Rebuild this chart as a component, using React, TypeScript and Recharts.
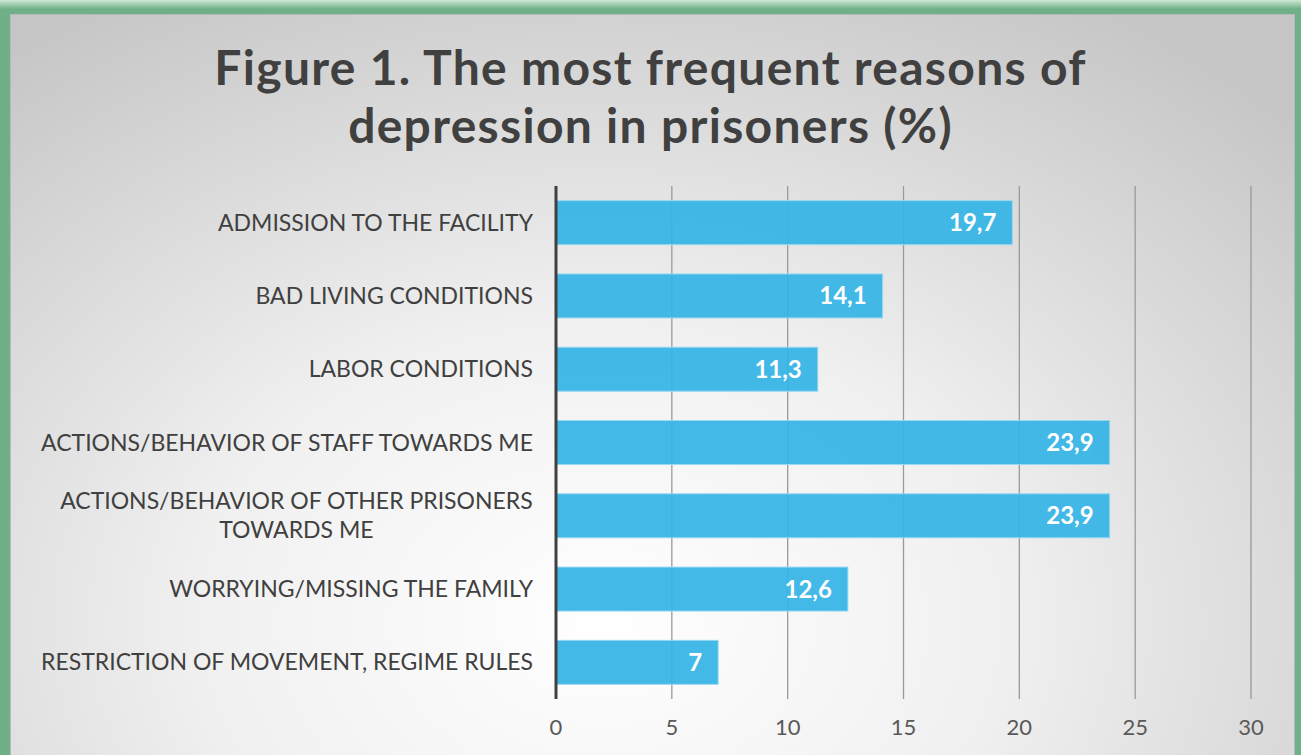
import React from "react"
import { Bar, BarChart, CartesianGrid, LabelList, XAxis, YAxis } from "recharts"

const categories = [
  "ADMISSION TO THE FACILITY",
  "BAD LIVING CONDITIONS",
  "LABOR CONDITIONS",
  "ACTIONS/BEHAVIOR OF STAFF TOWARDS ME",
  "ACTIONS/BEHAVIOR OF OTHER PRISONERS TOWARDS ME",
  "WORRYING/MISSING THE FAMILY",
  "RESTRICTION OF MOVEMENT, REGIME RULES",
]
const values = [19.7, 14.1, 11.3, 23.9, 23.9, 12.6, 7]
const xTicks = [0, 5, 10, 15, 20, 25, 30]
const titleLines = ["Figure 1. The most frequent reasons of", "depression in prisoners (%)"]

const data = categories.map((name, i) => ({ name, value: values[i] }))

const FONT = "Lato, 'Open Sans', sans-serif"
const LABEL_FONT_SIZE = 23

let ctx: CanvasRenderingContext2D | null = null
function measure(text: string) {
  if (!ctx) ctx = document.createElement("canvas").getContext("2d")
  if (!ctx) return text.length * 13
  ctx.font = `${LABEL_FONT_SIZE}px ${FONT}`
  return ctx.measureText(text).width
}

function wrap(text: string, maxChars = 37) {
  const lines: string[] = []
  let cur = ""
  text.split(" ").forEach((w) => {
    const next = cur ? cur + " " + w : w
    if (next.length > maxChars && cur) {
      lines.push(cur)
      cur = w
    } else cur = next
  })
  if (cur) lines.push(cur)
  return lines
}

function CategoryTick(props: any) {
  const { x, y, payload } = props
  const lines = wrap(payload.value)
  const right = x - 15
  if (lines.length === 1) {
    return (
      <text x={right} y={y} dy="0.35em" textAnchor="end" fill="#404040" fontSize={LABEL_FONT_SIZE} fontFamily={FONT}>
        {lines[0]}
      </text>
    )
  }
  const maxW = Math.max(...lines.map(measure))
  const cx = right - maxW / 2
  const lh = 29
  const start = y - ((lines.length - 1) * lh) / 2
  return (
    <text textAnchor="middle" fill="#404040" fontSize={LABEL_FONT_SIZE} fontFamily={FONT}>
      {lines.map((l, i) => (
        <tspan key={i} x={cx} y={start + i * lh} dy="0.35em">
          {l}
        </tspan>
      ))}
    </text>
  )
}

export default function App() {
  return (
    <div
      style={{
        position: "fixed",
        left: 0,
        top: 0,
        width: 1301,
        height: 755,
        overflow: "hidden",
        background: "linear-gradient(#cde8d6 0px, #6fb088 9px, #6fb088 100%)",
      }}
    >
      <div
        style={{
          position: "absolute",
          left: 10,
          top: 14,
          width: 1285,
          height: 760,
          border: "1px solid #b8b8b8",
          boxSizing: "border-box",
          background: "radial-gradient(ellipse 75% 95% at 46% 80%, #ffffff 0%, #f0f0f0 42%, #c6c6c6 100%)",
        }}
      />
      <div
        style={{
          position: "absolute",
          left: 0,
          top: 38,
          width: 1301,
          textAlign: "center",
          fontFamily: FONT,
          fontWeight: 700,
          fontSize: 48,
          letterSpacing: 1.3,
          lineHeight: "58px",
          color: "#404040",
        }}
      >
        {titleLines.map((t) => (
          <div key={t}>{t}</div>
        ))}
      </div>
      <div style={{ position: "absolute", left: 0, top: 0 }}>
        <BarChart
          width={1301}
          height={755}
          data={data}
          layout="vertical"
          margin={{ top: 186, right: 50, bottom: 16, left: 0 }}
          barCategoryGap="20%"
        >
          <CartesianGrid horizontal={false} stroke="#9a9a9a" strokeWidth={1.3} />
          <XAxis
            type="number"
            domain={[0, 30]}
            ticks={xTicks}
            axisLine={false}
            tickLine={false}
            tick={{ fill: "#595959", fontSize: 22, fontFamily: FONT }}
            tickMargin={14}
            height={40}
          />
          <YAxis
            type="category"
            dataKey="name"
            width={556}
            axisLine={{ stroke: "#404040", strokeWidth: 3 }}
            tickLine={false}
            tick={<CategoryTick />}
          />
          <Bar dataKey="value" fill="#35b4e6" fillOpacity={0.93} stroke="#9ad8f2" strokeWidth={1} isAnimationActive={false}>
            <LabelList
              dataKey="value"
              position="insideRight"
              offset={16}
              formatter={(v: any) => String(v).replace(".", ",")}
              fill="#ffffff"
              fontSize={24}
              fontWeight={700}
              fontFamily={FONT}
            />
          </Bar>
        </BarChart>
      </div>
    </div>
  )
}
